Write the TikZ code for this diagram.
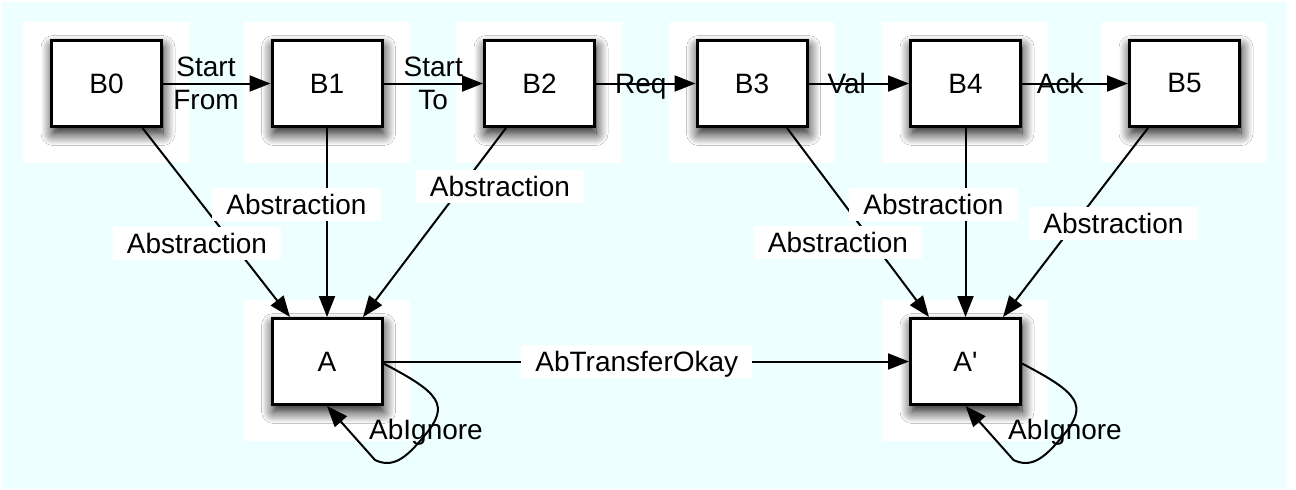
\documentclass[tikz,border=0pt]{standalone}
\usepackage{fontspec}
\setmainfont{Liberation Sans}
\usetikzlibrary{arrows.meta,shadows.blur,backgrounds,calc}
\definecolor{bgcyan}{RGB}{238,255,255}
\begin{document}
\begin{tikzpicture}[x=1pt,y=-1pt,
  every node/.style={font=\fontsize{28}{33}\selectfont},
  box/.style={draw=black, line width=3pt, fill=white, minimum width=110pt, minimum height=86pt, inner sep=0pt,
    blur shadow={shadow xshift=1.5pt, shadow yshift=-7pt, shadow blur radius=12pt, shadow blur steps=14, shadow opacity=95}},
  arr/.style={line width=2pt, -{Triangle[length=21pt,width=16pt]}},
  elab/.style={inner sep=0pt, text depth=0pt, align=center},
  alab/.style={fill=white, inner xsep=14pt, inner ysep=6.5pt, text height=20pt, text depth=0pt},
  halo/.style={fill=white}]
\useasboundingbox (0,0) rectangle (1296,490);

% boxes
\node[box] (B0) at (106.5,83.5) {B0};
\node[box] (B1) at (327,83.5) {B1};
\node[box] (B2) at (539.5,83.5) {B2};
\node[box] (B3) at (752,83.5) {B3};
\node[box] (B4) at (965.5,83.5) {B4};
\node[box] (B5) at (1184.5,83.5) {B5};
\node[box] (A) at (327,361.5) {A};
\node[box] (Ap) at (965.5,361.5) {A\textquotesingle};

% top chain
\draw[arr] (B0.east) -- node[elab, pos=0.4] (lsf) {Start\\From} (B1.west);
\draw[arr] (B1.east) -- node[elab, pos=0.5] (lst) {Start\\To} (B2.west);
\draw[arr] (B2.east) -- node[elab, pos=0.45] (lreq) {Req} (B3.west);
\draw[arr] (B3.east) -- node[elab, pos=0.38] (lval) {Val} (B4.west);
\draw[arr] (B4.east) -- node[elab, pos=0.36] (lack) {Ack} (B5.west);

% abstractions
\draw[arr] ([xshift=36pt]B0.south) -- ([xshift=-37pt]A.north);
\draw[arr] (B1.south) -- (A.north);
\draw[arr] ([xshift=-33.5pt]B2.south) -- ([xshift=36pt]A.north);
\draw[arr] ([xshift=35pt]B3.south) -- ([xshift=-36.5pt]Ap.north);
\draw[arr] (B4.south) -- (Ap.north);
\draw[arr] ([xshift=-36.5pt]B5.south) -- ([xshift=37.5pt]Ap.north);

\node[alab] (l0) at (197,243.5) {Abstraction};
\node[alab] (l1) at (296.5,204) {Abstraction};
\node[alab] (l2) at (500,186.5) {Abstraction};
\node[alab] (l3) at (838,242.5) {Abstraction};
\node[alab] (l4) at (933.5,204) {Abstraction};
\node[alab] (l5) at (1113.5,223.5) {Abstraction};

% transfer
\draw[arr] (A.east) -- node[alab, pos=0.482] (ltr) {AbTransferOkay} (Ap.west);

% self loops
\draw[arr] ([yshift=-2pt]A.east) .. controls ($(A)+(113,31.5)$) and ($(A)+(123,43.5)$) .. ($(A)+(98,73.5)$)
  .. controls ($(A)+(78,98.5)$) and ($(A)+(65,106.5)$) .. ($(A)+(48,98.5)$) -- (A.south);
\node[elab] (lig) at (426,429.5) {AbIgnore};
\draw[arr] ([yshift=-2pt]Ap.east) .. controls ($(Ap)+(113,31.5)$) and ($(Ap)+(123,43.5)$) .. ($(Ap)+(98,73.5)$)
  .. controls ($(Ap)+(78,98.5)$) and ($(Ap)+(65,106.5)$) .. ($(Ap)+(48,98.5)$) -- (Ap.south);
\node[elab] (ligp) at (1065,429.5) {AbIgnore};

% background
\begin{scope}[on background layer]
  \fill[bgcyan] (2,2) rectangle (1287,488);
  \foreach \n in {B0,B1,B2,B3,B4,B5,A,Ap}
    \fill[halo] ($(\n.north west)+(-27,-17)$) rectangle ($(\n.south east)+(26,35)$);
\end{scope}
\end{tikzpicture}
\end{document}
